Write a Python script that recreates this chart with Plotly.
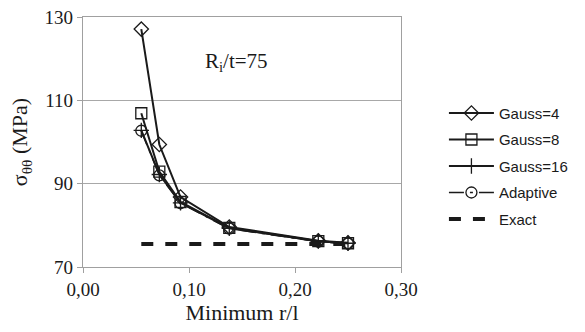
import plotly.graph_objects as go

r_l = [0.055, 0.072, 0.092, 0.138, 0.222, 0.250]
gauss4 = [127.1, 99.4, 86.8, 79.6, 76.3, 75.8]
gauss8 = [106.9, 92.9, 85.6, 79.4, 76.2, 75.7]
gauss16 = [102.8, 92.2, 85.4, 79.3, 76.2, 75.7]
adaptive = [102.7, 92.0, 85.3, 79.2, 76.1, 75.6]
exact = [75.5, 75.5, 75.5, 75.5, 75.5, 75.5]
x_ticks = [0.0, 0.1, 0.2, 0.3]
x_tick_labels = ["0,00", "0,10", "0,20", "0,30"]
y_ticks = [70, 90, 110, 130]

INK = "#1a1a1a"
SERIF = "Liberation Serif"
fig = go.Figure()
fig.add_trace(go.Scatter(x=r_l, y=gauss4, name="Gauss=4", legendgroup="a",
                         mode="lines+markers",
                         line=dict(color=INK, width=2),
                         marker=dict(symbol="diamond-open", size=11, color=INK, line=dict(width=1.3))))
fig.add_trace(go.Scatter(x=r_l, y=gauss8, name="Gauss=8", legendgroup="b",
                         mode="lines+markers",
                         line=dict(color=INK, width=2),
                         marker=dict(symbol="square-open", size=11, color=INK, line=dict(width=1.3))))
fig.add_trace(go.Scatter(x=r_l, y=gauss16, name="Gauss=16", legendgroup="c",
                         mode="lines+markers",
                         line=dict(color=INK, width=2),
                         marker=dict(symbol="cross-thin-open", size=11, color=INK, line=dict(width=1.3, color=INK))))
fig.add_trace(go.Scatter(x=r_l, y=adaptive, name="Adaptive", legendgroup="d",
                         mode="lines+markers",
                         line=dict(color=INK, width=1.5, dash="longdashdot"),
                         marker=dict(symbol="circle-open", size=11, color=INK, line=dict(width=1.3))))
fig.add_trace(go.Scatter(x=r_l, y=exact, name="Exact", legendgroup="e",
                         mode="lines",
                         line=dict(color=INK, width=4, dash="dash")))

fig.add_annotation(x=0.145, y=119.3, xref="x", yref="y",
                   text="R<sub>i</sub>/t=75", showarrow=False,
                   font=dict(family=SERIF, size=21, color=INK))

fig.update_layout(
    width=585, height=332,
    margin=dict(l=83, r=180, t=17, b=65),
    paper_bgcolor="white", plot_bgcolor="white",
    font=dict(family=SERIF, size=19, color=INK),
    showlegend=True,
    legend=dict(x=1.135, y=0.403, xanchor="left", yanchor="middle",
                font=dict(family="Liberation Sans", size=15, color=INK),
                itemwidth=45,
                tracegroupgap=4, bgcolor="rgba(0,0,0,0)"),
    xaxis=dict(range=[0, 0.3], tickvals=x_ticks, ticktext=x_tick_labels,
               automargin=False,
               showgrid=False, showline=True, linecolor="#a0a0a0", linewidth=1.3,
               mirror=True, ticks="outside", ticklen=5, tickcolor="#a0a0a0",
               zeroline=False,
               title=dict(text="Minimum r/l", font=dict(family=SERIF, size=22, color=INK), standoff=2),
               tickfont=dict(family=SERIF, size=19, color=INK)),
    yaxis=dict(range=[70, 130], tickvals=y_ticks,
               automargin=False,
               showgrid=True, gridcolor="#a8a8a8", gridwidth=1.2,
               showline=True, linecolor="#a0a0a0", linewidth=1.3,
               mirror=True, ticks="outside", ticklen=5, tickcolor="#a0a0a0",
               zeroline=False,
               title=dict(text="σ<sub>θθ</sub> (MPa)", font=dict(family=SERIF, size=22, color=INK), standoff=10),
               tickfont=dict(family=SERIF, size=19, color=INK)),
)

fig.write_html("out.html",
               config={"displayModeBar": False},
               post_script="document.body.style.margin='0';document.body.style.padding='0';")
